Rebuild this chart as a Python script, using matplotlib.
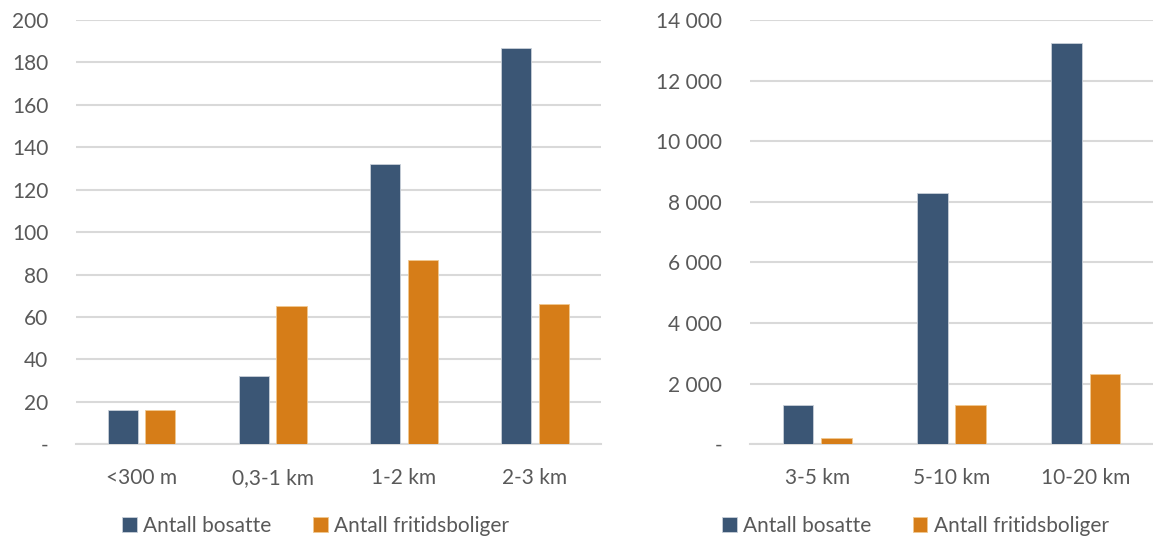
import matplotlib
matplotlib.use('Agg')
import matplotlib.pyplot as plt
import matplotlib.ticker as mticker
import numpy as np

near_cats = ['<300 m', '0,3-1 km', '1-2 km', '2-3 km']
near_bosatte = [16, 32, 132, 187]
near_fritid = [16, 65, 87, 66]

far_cats = ['3-5 km', '5-10 km', '10-20 km']
far_bosatte = [1280, 8300, 13240]
far_fritid = [200, 1300, 2300]

blue = '#3b5675'
orange = '#d67d18'
grey_txt = '#595959'
grid_c = '#d9d9d9'

plt.rcParams['font.family'] = ['Lato', 'DejaVu Sans']

fig = plt.figure(figsize=(11.53, 5.41), dpi=100)
ax1 = fig.add_axes([0.0659, 0.179, 0.455, 0.784])
ax2 = fig.add_axes([0.6505, 0.179, 0.3495, 0.784])


def draw(ax, cats, b, f, ymax, step, fmt, leg_x):
    x = np.arange(len(cats))
    w = 0.23
    off = 0.143
    ax.bar(x - off, b, w, color=blue, edgecolor='#c9d0d9', linewidth=0.6, label='Antall bosatte', zorder=3)
    ax.bar(x + off, f, w, color=orange, edgecolor='#f0c890', linewidth=0.6, label='Antall fritidsboliger', zorder=3)
    ax.set_xlim(-0.5, len(cats) - 0.5)
    ax.set_ylim(0, ymax)
    ax.set_yticks(np.arange(0, ymax + 1, step))
    ax.yaxis.set_major_formatter(mticker.FuncFormatter(fmt))
    ax.set_xticks(x)
    ax.set_xticklabels(cats)
    ax.yaxis.grid(True, color=grid_c, linewidth=1.5, zorder=0)
    ax.set_axisbelow(True)
    for s in ['top', 'right', 'left']:
        ax.spines[s].set_visible(False)
    ax.spines['bottom'].set_color(grid_c)
    ax.spines['bottom'].set_linewidth(1.5)
    ax.tick_params(axis='both', length=0, labelsize=15, colors=grey_txt)
    ax.tick_params(axis='x', pad=17)
    ax.tick_params(axis='y', pad=20)
    ax.legend(loc='upper center', bbox_to_anchor=(leg_x, -0.125), ncol=2, frameon=False,
              fontsize=15, labelcolor=grey_txt, handlelength=0.7, handleheight=0.7,
              handletextpad=0.3, columnspacing=2.0)


def fmt_small(v, pos):
    return '-' if v == 0 else '%d' % v


def fmt_big(v, pos):
    return '-' if v == 0 else '{:,}'.format(int(v)).replace(',', ' ')


draw(ax1, near_cats, near_bosatte, near_fritid, 200, 20, fmt_small, 0.457)
draw(ax2, far_cats, far_bosatte, far_fritid, 14000, 2000, fmt_big, 0.41)

plt.savefig('out.png', dpi=100)
plt.close()
